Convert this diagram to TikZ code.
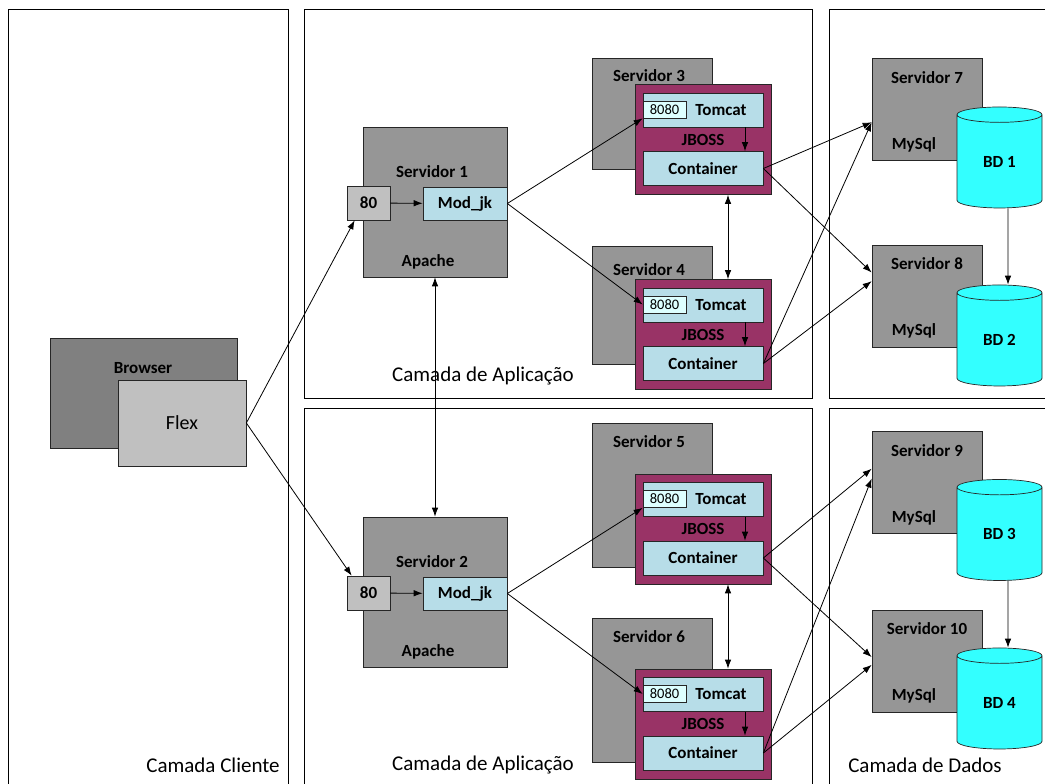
\documentclass[tikz,border=0pt]{standalone}
\usepackage{fontspec}
\setmainfont{Carlito}
\usepackage{tikz}
\usetikzlibrary{shapes.geometric, arrows.meta}
\definecolor{srvgray}{HTML}{969696}
\definecolor{brwgray}{HTML}{808080}
\definecolor{ltgray}{HTML}{C0C0C0}
\definecolor{jbcyan}{HTML}{B7DDE8}
\definecolor{jbpurple}{HTML}{993366}
\definecolor{portcyan}{HTML}{DDFFFF}
\definecolor{dbcyan}{HTML}{33FFFF}
\tikzstyle{arrow} = [line width=0.8pt,-{Latex[length=9pt,width=6.5pt]}]
\tikzstyle{dblarrow} = [line width=0.8pt,{Latex[length=9pt,width=6.5pt]}-{Latex[length=9pt,width=6.5pt]}]

\begin{document}
\begin{tikzpicture}[x=1pt,y=-1pt,
    panel/.style={line width=0.8pt},
    box/.style={draw=black!85, line width=0.7pt, inner sep=0pt},
    srv/.style={box, fill=srvgray},
    cyanbox/.style={box, fill=jbcyan, font=\fontsize{17}{19}\selectfont\bfseries},
    jboss/.style={box, fill=jbpurple, minimum width=136pt, minimum height=110pt},
    port/.style={box, fill=portcyan, minimum width=43pt, minimum height=17pt, font=\fontsize{14.5}{16}\selectfont},
    db/.style={cylinder, shape border rotate=90, aspect=0.47, draw=black!85, line width=0.7pt,
        fill=dbcyan, minimum width=85pt, minimum height=101pt, inner sep=0pt,
        font=\fontsize{17}{19}\selectfont\bfseries},
    txt/.style={inner sep=0pt, font=\fontsize{17}{19}\selectfont\bfseries},
    layer/.style={inner sep=0pt, font=\fontsize{21}{24}\selectfont}]
    \useasboundingbox (0,0) rectangle (1045,784);

    % camadas
    \draw[panel] (8,784) |- (288,9) -- (288,784);
    \draw[panel] (304,9) rectangle (812,398);
    \draw[panel] (304,784) |- (812,408) -- (812,784);
    \draw[panel] (1046,9) -| (829,398) -- (1046,398);
    \draw[panel] (829,784) |- (1046,408);
    \node[layer] (lcli) at (213,765) {Camada Cliente};
    \node[layer] (lapp1) at (483,376) {Camada de Aplicação};
    \node[layer] (lapp2) at (483,765) {Camada de Aplicação};
    \node[layer] (ldat) at (925,765) {Camada de Dados};

    % cliente
    \node[box, fill=brwgray, minimum width=187pt, minimum height=110pt] (browser) at (143.5,393) {};
    \node[txt] (lbrowser) at (143,368) {Browser};
    \node[box, fill=ltgray, minimum width=128pt, minimum height=86pt,
        font=\fontsize{20}{22}\selectfont] (flex) at (182,423) {Flex};

    % apache
    \foreach \n/\y in {1/202, 2/592} {
        \node[srv, minimum width=144pt, minimum height=150pt] (s\n) at (435,\y) {};
        \node[txt] (ls\n) at (432,\y-30) {Servidor \n};
        \node[txt] (la\n) at (428,\y+60) {Apache};
        \node[box, fill=ltgray, minimum width=43pt, minimum height=34pt, font=\fontsize{17}{19}\selectfont\bfseries] (p\n) at (368.5,\y+1) {80};
        \node[cyanbox, minimum width=84pt, minimum height=33pt] (m\n) at (465,\y+1.5) {Mod\_jk};
        \draw[arrow] (p\n) -- (m\n);
    }

    % jboss
    \foreach \n/\yj/\yg/\hg/\yl in {3/139.5/113.5/111/76, 4/334.5/305/118/270,
        5/529/495/144/442, 6/724/690/144/637} {
        \node[srv, minimum width=120pt, minimum height=\hg pt] (s\n) at (652,\yg) {};
        \node[txt] (ls\n) at (649,\yl) {Servidor \n};
        \node[jboss] (j\n) at (703,\yj) {};
        \node[txt] (lj\n) at (703,\yj) {JBOSS};
        \node[cyanbox, minimum width=120pt, minimum height=34pt] (t\n) at (703,\yj-29.5) {};
        \node[port] (k\n) at (664.5,\yj-30) {8080};
        \node[txt] (lt\n) at (721,\yj-29.5) {Tomcat};
        \node[cyanbox, minimum width=120pt, minimum height=34pt] (c\n) at (703,\yj+29) {Container};
        \draw[arrow] ([xshift=42pt]t\n.south) -- ([xshift=42pt]c\n.north);
    }

    % mysql
    \foreach \n/\ys/\d/\yd in {7/109.5/1/161.5, 8/296/2/339.5, 9/482.5/3/534, 10/661/4/702.5} {
        \node[srv, minimum width=110pt, minimum height=102pt] (s\n) at (927,\ys) {};
        \node[txt] (ls\n) at (927,\ys-32) {Servidor \n};
        \node[txt] (lm\n) at (914,\ys+35) {MySql};
        \node[db] (bd\d) at (999.5,\yd) {BD \d};
    }

    % ligacoes
    \draw[arrow] (flex.east) -- ([xshift=8pt]p1.south west);
    \draw[arrow] (flex.east) -- ([xshift=5pt]p2.north west);
    \draw[arrow] (m1.east) -- (k3.south west);
    \draw[arrow] (m1.east) -- (k4.west);
    \draw[arrow] (m2.east) -- (k5.south west);
    \draw[arrow] (m2.east) -- (k6.west);
    \draw[dblarrow] (s1.south) -- (s2.north);
    \draw[dblarrow] ([xshift=25pt]j3.south) -- ([xshift=25pt]j4.north);
    \draw[dblarrow] ([xshift=25pt]j5.south) -- ([xshift=25pt]j6.north);
    \draw[arrow] (c3.east) -- (s7.193);
    \draw[arrow] (c3.east) -- (s8.157);
    \draw[arrow] (c4.east) -- (s7.193);
    \draw[arrow] (c4.east) -- (s8.165);
    \draw[arrow] (c5.east) -- (s9.166);
    \draw[arrow] (c5.east) -- (s10.176);
    \draw[arrow] (c6.east) -- (s9.176);
    \draw[arrow] (c6.east) -- (s10.184);
    \draw[arrow] ([xshift=8.5pt]bd1.south) -- ([xshift=8.5pt]bd2.north);
    \draw[arrow] ([xshift=8.5pt]bd3.south) -- ([xshift=8.5pt]bd4.north);
\end{tikzpicture}
\end{document}
